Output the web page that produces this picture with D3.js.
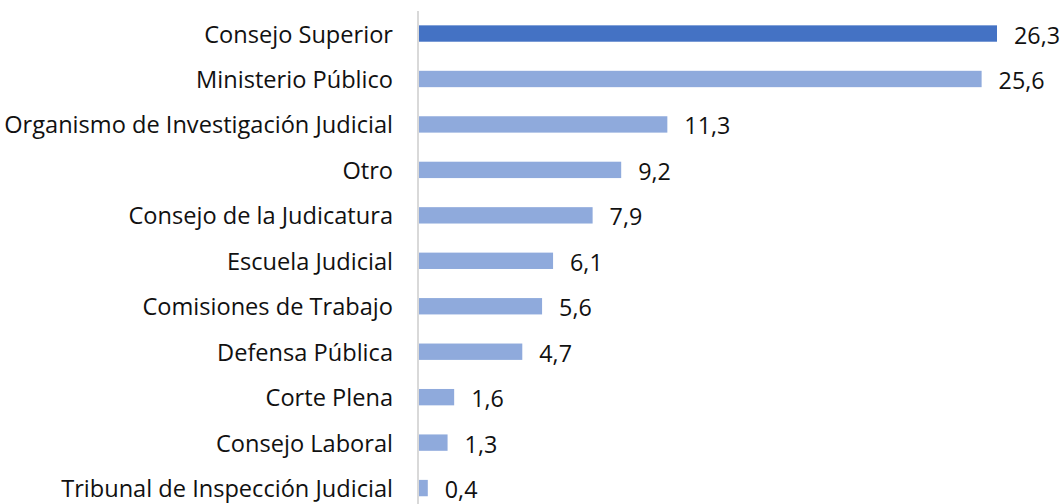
<!DOCTYPE html>
<html><head><meta charset="utf-8">
<script src="https://cdn.jsdelivr.net/npm/d3@7"></script>
<style>body{margin:0;background:#fff}svg{display:block}text{font-family:"Open Sans",sans-serif}</style>
</head><body>
<svg id="c" width="1063" height="504"></svg>
<script>
const categories = ["Consejo Superior","Ministerio Público","Organismo de Investigación Judicial","Otro","Consejo de la Judicatura","Escuela Judicial","Comisiones de Trabajo","Defensa Pública","Corte Plena","Consejo Laboral","Tribunal de Inspección Judicial"];
const values = [26.3,25.6,11.3,9.2,7.9,6.1,5.6,4.7,1.6,1.3,0.4];
const valueLabels = ["26,3","25,6","11,3","9,2","7,9","6,1","5,6","4,7","1,6","1,3","0,4"];
const highlight = [true,false,false,false,false,false,false,false,false,false,false];

const svg = d3.select("#c");
const x0 = 419;
const x = d3.scaleLinear().domain([0, 26.3]).range([x0, 997]);
const y = d3.scaleBand().domain(categories).range([10.8, 510.8]).paddingInner(0.64).paddingOuter(0.32);

svg.append("line").attr("x1",418).attr("x2",418).attr("y1",11).attr("y2",504)
  .attr("stroke","#d9d9d9").attr("stroke-width",2);

svg.selectAll("rect.bar").data(categories).join("rect").attr("class","bar")
  .attr("x", x(0)).attr("y", d => y(d))
  .attr("width", (d,i) => x(values[i]) - x(0))
  .attr("height", y.bandwidth())
  .attr("fill", (d,i) => highlight[i] ? "#4472C4" : "#8FAADC");

svg.selectAll("text.cat").data(categories).join("text").attr("class","cat")
  .attr("x", 393).attr("y", d => y(d) + y.bandwidth()/2)
  .attr("text-anchor","end").attr("dominant-baseline","central")
  .attr("font-size", 23.6).attr("fill","#111").text(d => d);

svg.selectAll("text.val").data(categories).join("text").attr("class","val")
  .attr("x", (d,i) => x(values[i]) + 17).attr("y", d => y(d) + y.bandwidth()/2 + 1)
  .attr("dominant-baseline","central")
  .attr("font-size", 23.3).attr("fill","#111").text((d,i) => valueLabels[i]);
</script>
</body></html>
